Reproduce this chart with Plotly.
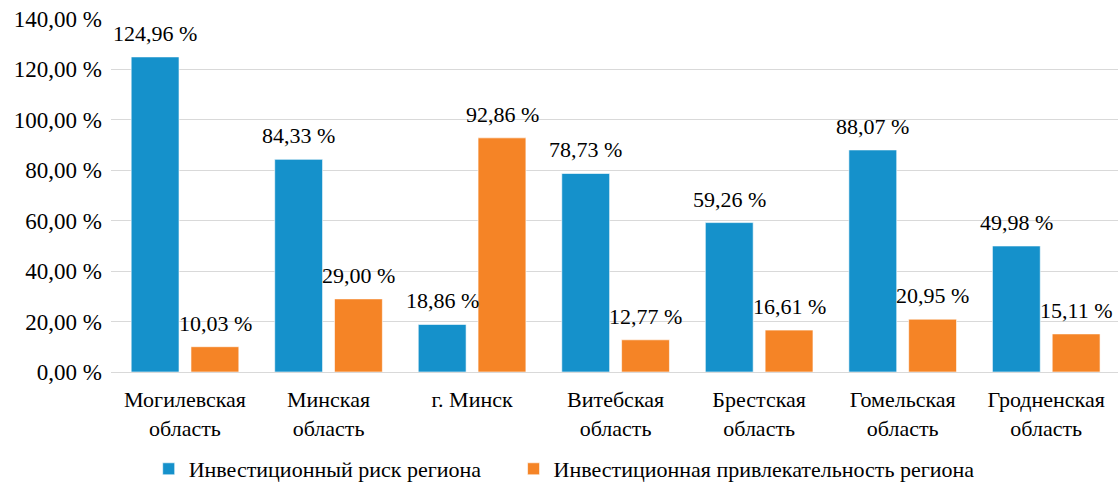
import plotly.graph_objects as go

categories = ["Могилевская<br>область", "Минская<br>область", "г. Минск", "Витебская<br>область",
              "Брестская<br>область", "Гомельская<br>область", "Гродненская<br>область"]
risk = [124.96, 84.33, 18.86, 78.73, 59.26, 88.07, 49.98]
attract = [10.03, 29.00, 92.86, 12.77, 16.61, 20.95, 15.11]
series_names = ["Инвестиционный риск региона", "Инвестиционная привлекательность региона"]
tick_vals = [0, 20, 40, 60, 80, 100, 120, 140]
tick_text = ["0,00 %", "20,00 %", "40,00 %", "60,00 %", "80,00 %", "100,00 %", "120,00 %", "140,00 %"]

def fmt(v):
    return f"{v:.2f}".replace(".", ",") + " %"

FONT = "Liberation Serif, Times New Roman, serif"
PAD = "\u00a0" * 5
series = [(series_names[0], risk, "#1591cb", -30), (series_names[1], attract, "#f58426", 30)]
fig = go.Figure()
for i, (name, vals, color, xs) in enumerate(series):
    fig.add_trace(go.Bar(
        x=categories, y=vals, name=name + (PAD if i == 0 else ""),
        marker=dict(color=color, line=dict(color="rgba(255,255,255,0.6)", width=1)),
        hovertext=[fmt(v) for v in vals],
    ))
    for c, v in zip(categories, vals):
        fig.add_annotation(x=c, y=v, xref="x", yref="y", text=fmt(v), showarrow=False,
                           xshift=xs, yshift=9, yanchor="bottom",
                           font=dict(family=FONT, size=22, color="#000"))

fig.update_layout(
    width=1118, height=482,
    margin=dict(l=111, r=0, t=19, b=110, autoexpand=False),
    plot_bgcolor="white", paper_bgcolor="white",
    barmode="group", bargap=0.1667, bargroupgap=0.2,
    font=dict(family=FONT, size=22, color="#000"),
    yaxis=dict(range=[0, 140], tickvals=tick_vals, ticktext=tick_text,
               gridcolor="#d9d9d9", gridwidth=1, zeroline=False, automargin=False,
               ticks="", ticklabelstandoff=8,
               tickfont=dict(family=FONT, size=23, color="#000")),
    xaxis=dict(showline=True, linecolor="#d9d9d9", ticks="", automargin=False,
               ticklabelstandoff=8,
               tickfont=dict(family=FONT, size=22, color="#000")),
    legend=dict(orientation="h", xref="container", x=0.133, xanchor="left",
                yref="container", y=0.027, yanchor="middle",
                font=dict(family=FONT, size=22, color="#000")),
    showlegend=True,
)
fig.write_html("out.html", config={"displayModeBar": False},
               post_script="document.body.style.margin='0';document.body.style.overflow='hidden';")
